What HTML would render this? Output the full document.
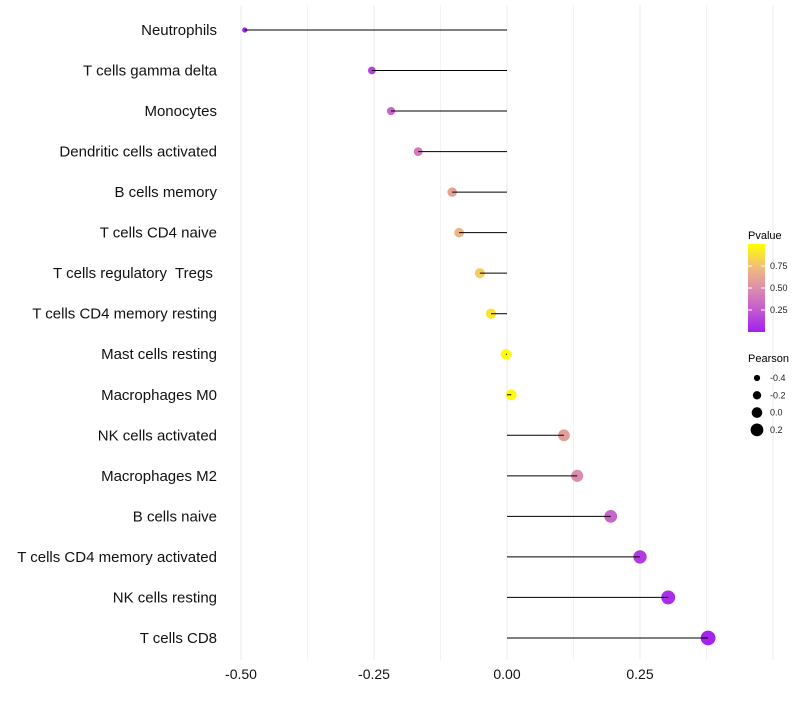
<!DOCTYPE html>
<html><head><meta charset="utf-8"><style>
body{margin:0;background:#fff;font-family:"Liberation Sans",sans-serif}
text{white-space:pre}
</style></head><body>
<svg id="c" width="800" height="700" xmlns="http://www.w3.org/2000/svg" font-family="Liberation Sans, sans-serif">
<defs><linearGradient id="pg" x1="0" y1="1" x2="0" y2="0">
<stop offset="0" stop-color="#a020f0"/><stop offset="0.25" stop-color="#c25ad0"/><stop offset="0.5" stop-color="#dc8fab"/><stop offset="0.75" stop-color="#f1bf78"/><stop offset="1" stop-color="#ffff00"/></linearGradient></defs>
<g id="grid"></g>
<g id="marks"></g>
<g id="ylab"></g>
<g id="xlab"></g>
<g>
<text x="748" y="239" font-size="11">Pvalue</text>
<rect x="748" y="244" width="17" height="88" fill="url(#pg)"/>
<g id="cbt"></g>
</g>
<g>
<text x="748" y="362" font-size="11">Pearson</text>
<g id="sizeleg"></g>
</g>
</svg>
<script>
const categories=["Neutrophils","T cells gamma delta","Monocytes","Dendritic cells activated","B cells memory","T cells CD4 naive","T cells regulatory  Tregs ","T cells CD4 memory resting","Mast cells resting","Macrophages M0","NK cells activated","Macrophages M2","B cells naive","T cells CD4 memory activated","NK cells resting","T cells CD8"];
const pearson=[-0.493,-0.254,-0.218,-0.167,-0.103,-0.09,-0.051,-0.03,-0.002,0.008,0.107,0.132,0.195,0.25,0.303,0.378];
const pvalue=[0.02,0.15,0.3,0.4,0.6,0.7,0.8,0.9,1.0,0.98,0.58,0.48,0.3,0.12,0.06,0.02];
const xTicks=[-0.5,-0.25,0,0.25];
const xTickLabels=["-0.50","-0.25","0.00","0.25"];
const cbTicks=[0.25,0.5,0.75];
const sizeLegend=[-0.4,-0.2,0.0,0.2];
const NS="http://www.w3.org/2000/svg";
const x=v=>507+v*532;
const y=i=>30+i*40.53;
const r=p=>5.3+5.5*p;
const stops=[[0,[160,32,240]],[0.25,[194,90,208]],[0.5,[220,143,171]],[0.75,[241,191,120]],[1,[255,255,0]]];
function col(p){for(let k=1;k<stops.length;k++){if(p<=stops[k][0]){const a=stops[k-1],b=stops[k],t=(p-a[0])/(b[0]-a[0]);return "rgb("+a[1].map((c,j)=>Math.round(c+(b[1][j]-c)*t)).join(",")+")";}}return "rgb(255,255,0)";}
function mk(tag,at,parent){const e=document.createElementNS(NS,tag);for(const k in at)e.setAttribute(k,at[k]);document.getElementById(parent).appendChild(e);return e;}
for(let v=-0.5;v<=0.501;v+=0.125){const g=mk("line",{x1:x(v),x2:x(v),y1:5,y2:660,stroke:Math.abs((v*4)%1)<1e-6?"#ebebeb":"#f3f3f3","stroke-width":1},"grid");

}
categories.forEach((c,i)=>{
const d=mk("circle",{cx:x(pearson[i]),cy:y(i),r:r(pearson[i]),fill:col(pvalue[i])},"marks");


const l=mk("line",{x1:x(pearson[i]),x2:x(0),y1:y(i),y2:y(i),stroke:"#000","stroke-width":1},"marks");


const t=mk("text",{x:217,y:y(i)+5,"text-anchor":"end","font-size":"15",fill:"#111"},"ylab");t.textContent=c;


});
xTicks.forEach((v,i)=>{const t=mk("text",{x:x(v),y:679,"text-anchor":"middle","font-size":"14",fill:"#111"},"xlab");t.textContent=xTickLabels[i];

});
cbTicks.forEach(v=>{const yy=332-v*88;mk("line",{x1:748,x2:752,y1:yy,y2:yy,stroke:"#fff"},"cbt");mk("line",{x1:761,x2:765,y1:yy,y2:yy,stroke:"#fff"},"cbt");
const t=mk("text",{x:770,y:yy+3,"font-size":"9",fill:"#222"},"cbt");t.textContent=v.toFixed(2);

});
sizeLegend.forEach((v,i)=>{const yy=378+i*17.3;const c=mk("circle",{cx:757,cy:yy,r:r(v),fill:"#000"},"sizeleg");


const t=mk("text",{x:770,y:yy+3,"font-size":"9",fill:"#222"},"sizeleg");t.textContent=v.toFixed(1);

});
</script>
</body></html>
